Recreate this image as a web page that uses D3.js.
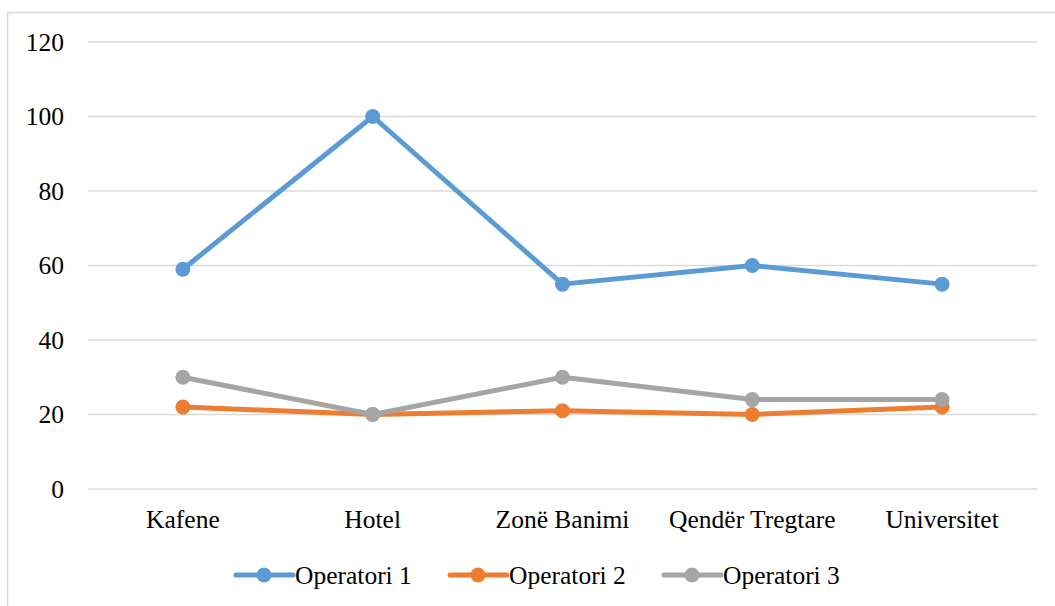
<!DOCTYPE html>
<html>
<head>
<meta charset="utf-8">
<script src="https://cdn.jsdelivr.net/npm/d3@7"></script>
<style>
  html, body { margin: 0; padding: 0; background: #fff; }
  svg { display: block; }
</style>
</head>
<body>
<svg id="chart" width="1055" height="606"></svg>
<script>
const categories = ["Kafene", "Hotel", "Zonë Banimi", "Qendër Tregtare", "Universitet"];
const seriesNames = ["Operatori 1", "Operatori 2", "Operatori 3"];
const operatori1 = [59, 100, 55, 60, 55];
const operatori2 = [22, 20, 21, 20, 22];
const operatori3 = [30, 20, 30, 24, 24];
const yTicks = [0, 20, 40, 60, 80, 100, 120];
const colors = ["#5b9bd5", "#ed7d31", "#a5a5a5"];

const series = [operatori1, operatori2, operatori3].map((v, i) => ({name: seriesNames[i], values: v, color: colors[i]}));

const svg = d3.select("#chart");
const W = 1055, H = 606;
const plot = {left: 88, right: 1037, top: 42, bottom: 489};

function styleText(sel) {
  sel.style("font-family", "'Liberation Serif', 'Times New Roman', serif", "important")
     .style("font-size", "25.5px", "important")
     .style("fill", "#000", "important");
}

// outer border
svg.append("rect").attr("x", 7.5).attr("y", 12.5).attr("width", W).attr("height", H)
  .attr("fill", "none").attr("stroke", "#d9d9d9").attr("stroke-width", 1.5);

const x = d3.scaleBand().domain(categories).range([plot.left, plot.right]);
const y = d3.scaleLinear().domain([0, 120]).range([plot.bottom, plot.top]);

// gridlines
svg.append("g").selectAll("line").data(yTicks).join("line")
  .attr("x1", plot.left).attr("x2", plot.right)
  .attr("y1", d => y(d)).attr("y2", d => y(d))
  .attr("stroke", "#d9d9d9").attr("stroke-width", 1.5);

// y axis labels
const yAxis = d3.axisLeft(y).tickValues(yTicks).tickSize(0).tickPadding(0);
const gy = svg.append("g").attr("transform", "translate(64,0)").call(yAxis);
gy.attr("font-family", "Liberation Serif").attr("font-size", 25.5);
gy.select(".domain").remove();
styleText(gy.selectAll("text"));

// x axis labels
const xAxis = d3.axisBottom(x).tickSize(0).tickPadding(0);
const gx = svg.append("g").attr("transform", "translate(0,510)").call(xAxis);
gx.attr("font-family", "Liberation Serif").attr("font-size", 25.5);
gx.select(".domain").remove();
styleText(gx.selectAll("text"));

const cx = c => x(c) + x.bandwidth() / 2;
const line = d3.line().x((d, i) => cx(categories[i])).y(d => y(d));

series.forEach(s => {
  svg.append("path").datum(s.values).attr("d", line)
    .attr("fill", "none").attr("stroke", s.color).attr("stroke-width", 5)
    .attr("stroke-linejoin", "round").attr("stroke-linecap", "round");
  svg.append("g").selectAll("circle").data(s.values).join("circle")
    .attr("cx", (d, i) => cx(categories[i])).attr("cy", d => y(d)).attr("r", 7.5)
    .attr("fill", s.color);
});

// legend
const legendX = [236, 450, 664];
const legendY = 575;
const lg = svg.append("g");
series.forEach((s, i) => {
  const g = lg.append("g").attr("transform", `translate(${legendX[i]},${legendY})`);
  g.append("line").attr("x1", 0).attr("x2", 57).attr("y1", 0).attr("y2", 0)
    .attr("stroke", s.color).attr("stroke-width", 5).attr("stroke-linecap", "round");
  g.append("circle").attr("cx", 28).attr("cy", 0).attr("r", 7.5).attr("fill", s.color);
  styleText(g.append("text").attr("x", 59).attr("y", 0).attr("dy", "0.35em").text(s.name));
});
</script>
</body>
</html>
